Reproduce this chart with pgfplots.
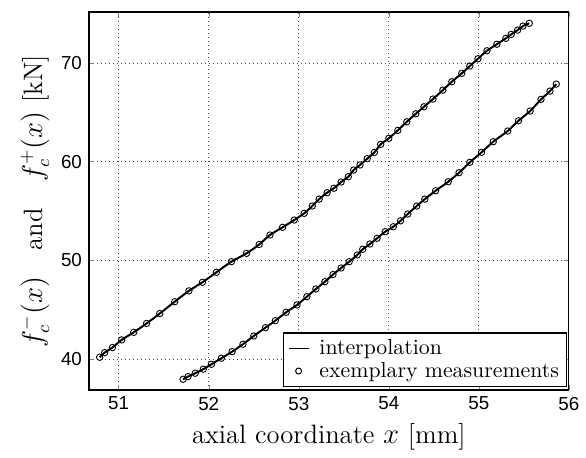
\documentclass[border=0pt]{standalone}
\usepackage{fontspec}
\usepackage{pgfplots}
\pgfplotsset{compat=1.18}
\newfontfamily\helv{Liberation Sans}
\pgfplotsset{
  shortline/.style={legend image code/.code={\draw[##1] (0pt,0pt) -- (10pt,0pt);}},
  onemark/.style={legend image code/.code={\draw[##1] plot coordinates {(5pt,0pt)};}},
}
\begin{document}
\begin{tikzpicture}
\begin{axis}[
  scale only axis,
  width=240pt, height=189pt,
  xmin=50.67, xmax=56, ymin=36.86, ymax=75.17,
  xtick={51,52,53,54,55,56}, ytick={40,50,60,70},
  tick align=inside, tick pos=both,
  major tick length=2.5pt,
  axis line style={line width=0.6pt},
  grid=major,
  major grid style={black!70, line width=0.4pt, dash pattern=on 0.5pt off 1.5pt},
  /pgf/number format/assume math mode=true,
  tick label style={font=\fontsize{9.4}{11}\helv},
  xlabel={axial coordinate $x$ [mm]},
  ylabel={$f_c^-(x)$\quad and\quad $f_c^+(x)$ [kN]},
  label style={font=\fontsize{13.3}{15}\selectfont},
  xlabel style={yshift=0pt},
  ylabel style={yshift=-1pt},
  legend cell align=left,
  legend style={font=\fontsize{10.9}{12.5}\selectfont, draw=black, line width=0.6pt,
    inner xsep=2.5pt, inner ysep=1.2pt, row sep=-1.5pt,
    nodes={inner xsep=1.2pt, inner ysep=1.9pt},
    /tikz/every odd column/.append style={column sep=4pt},
    at={(0.996,0.008)}, anchor=south east},
]
\addlegendimage{black, line width=0.5pt, shortline}
\addlegendentry{interpolation}
\addlegendimage{only marks, mark=o, mark size=1.5pt, black, line width=0.5pt, onemark}
\addlegendentry{exemplary measurements\hspace{3pt}}

\addplot[black, line width=1pt, smooth, forget plot] coordinates {
(50.789,40.17) (50.844,40.64) (50.93,41.15) (51.033,41.93) (51.167,42.70) (51.31,43.60)
(51.456,44.60) (51.622,45.80) (51.78,46.90) (51.93,47.77) (52.085,48.78) (52.252,49.86)
(52.42,50.70) (52.56,51.60) (52.68,52.56) (52.82,53.34) (52.95,54.08) (53.06,54.76)
(53.15,55.50) (53.226,56.20) (53.315,56.85) (53.39,57.30) (53.47,57.93) (53.55,58.47)
(53.61,59.15) (53.68,59.66) (53.76,60.30) (53.84,60.94) (53.91,61.75) (54.00,62.36)
(54.10,63.17) (54.20,64.04) (54.30,64.85) (54.39,65.56) (54.49,66.34) (54.60,67.25)
(54.70,68.10) (54.81,68.95) (54.90,69.69) (54.99,70.43) (55.09,71.24) (55.20,71.90)
(55.30,72.50) (55.36,72.90) (55.43,73.33) (55.49,73.74) (55.56,74.02)
};
\addplot[only marks, mark=o, mark size=1.6pt, black, line width=0.45pt, forget plot] coordinates {
(50.789,40.17) (50.844,40.64) (50.93,41.15) (51.033,41.93) (51.167,42.70) (51.31,43.60)
(51.456,44.60) (51.622,45.80) (51.78,46.90) (51.93,47.77) (52.085,48.78) (52.252,49.86)
(52.42,50.70) (52.56,51.60) (52.68,52.56) (52.82,53.34) (52.95,54.08) (53.06,54.76)
(53.15,55.50) (53.226,56.20) (53.315,56.85) (53.39,57.30) (53.47,57.93) (53.55,58.47)
(53.61,59.15) (53.68,59.66) (53.76,60.30) (53.84,60.94) (53.91,61.75) (54.00,62.36)
(54.10,63.17) (54.20,64.04) (54.30,64.85) (54.39,65.56) (54.49,66.34) (54.60,67.25)
(54.70,68.10) (54.81,68.95) (54.90,69.69) (54.99,70.43) (55.09,71.24) (55.20,71.90)
(55.30,72.50) (55.36,72.90) (55.43,73.33) (55.49,73.74) (55.56,74.02)
};
\addplot[black, line width=1pt, smooth, forget plot] coordinates {
(51.715,37.94) (51.77,38.21) (51.85,38.55) (51.94,38.96) (52.03,39.46) (52.14,40.07)
(52.26,40.74) (52.38,41.49) (52.50,42.33) (52.63,43.17) (52.74,43.88) (52.86,44.73)
(52.98,45.47) (53.09,46.31) (53.19,47.09) (53.29,47.83) (53.38,48.55) (53.47,49.22)
(53.56,49.86) (53.65,50.54) (53.71,51.11) (53.79,51.65) (53.87,52.23) (53.96,52.90)
(54.05,53.40) (54.13,54.00) (54.21,54.69) (54.31,55.50) (54.40,56.20) (54.52,57.05)
(54.66,57.96) (54.78,58.88) (54.90,59.93) (55.03,60.94) (55.16,62.02) (55.32,63.10)
(55.44,64.14) (55.57,65.13) (55.69,66.31) (55.79,67.15) (55.86,67.86)
};
\addplot[only marks, mark=o, mark size=1.6pt, black, line width=0.45pt, forget plot] coordinates {
(51.715,37.94) (51.77,38.21) (51.85,38.55) (51.94,38.96) (52.03,39.46) (52.14,40.07)
(52.26,40.74) (52.38,41.49) (52.50,42.33) (52.63,43.17) (52.74,43.88) (52.86,44.73)
(52.98,45.47) (53.09,46.31) (53.19,47.09) (53.29,47.83) (53.38,48.55) (53.47,49.22)
(53.56,49.86) (53.65,50.54) (53.71,51.11) (53.79,51.65) (53.87,52.23) (53.96,52.90)
(54.05,53.40) (54.13,54.00) (54.21,54.69) (54.31,55.50) (54.40,56.20) (54.52,57.05)
(54.66,57.96) (54.78,58.88) (54.90,59.93) (55.03,60.94) (55.16,62.02) (55.32,63.10)
(55.44,64.14) (55.57,65.13) (55.69,66.31) (55.79,67.15) (55.86,67.86)
};
\end{axis}
\path ([shift={(-44.5pt,-31.5pt)}]current axis.south west) rectangle ([shift={(8.5pt,6pt)}]current axis.north east);
\end{tikzpicture}
\end{document}
